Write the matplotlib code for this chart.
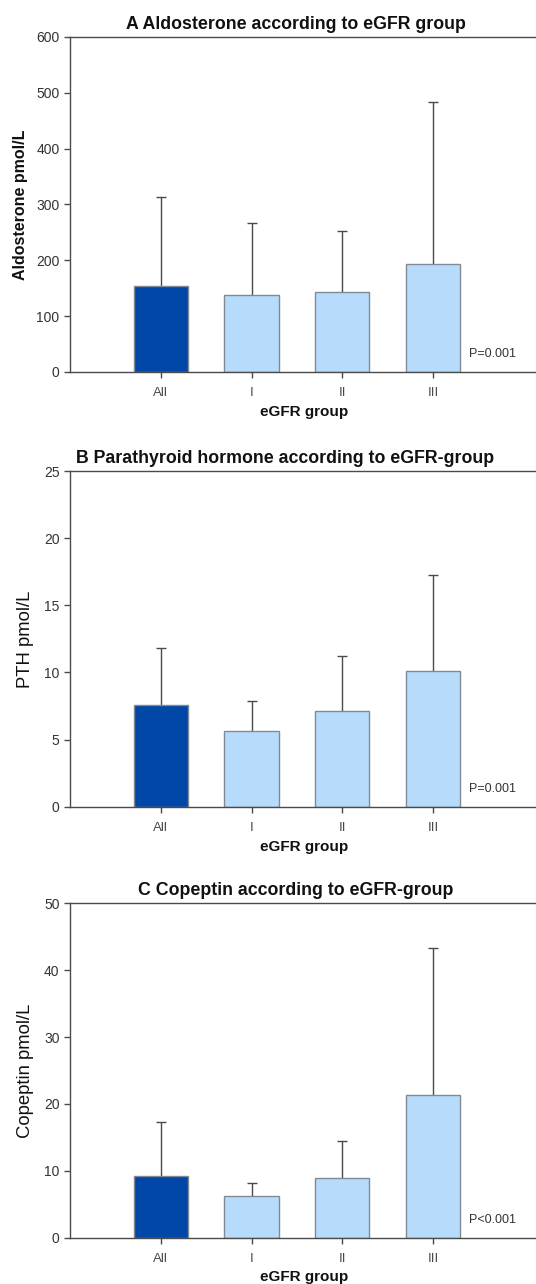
import numpy as np
import matplotlib
matplotlib.use('Agg')
import matplotlib.pyplot as plt

plt.rcParams['font.family'] = ['Liberation Sans', 'DejaVu Sans']

groups = ['All', 'I', 'II', 'III']

aldo_mean = [154, 138, 143, 194]
aldo_upper = [313, 266, 252, 484]

pth_mean = [7.57, 5.66, 7.15, 10.08]
pth_upper = [11.84, 7.9, 11.22, 17.23]

cop_mean = [9.27, 6.23, 8.92, 21.29]
cop_upper = [17.35, 8.23, 14.5, 43.27]

panels = [
    ('A Aldosterone according to eGFR group', 'Aldosterone pmol/L', True,
     aldo_mean, aldo_upper, 600, 100, 'P=0.001'),
    ('B Parathyroid hormone according to eGFR-group', 'PTH pmol/L', False,
     pth_mean, pth_upper, 25, 5, 'P=0.001'),
    ('C Copeptin according to eGFR-group', 'Copeptin pmol/L', False,
     cop_mean, cop_upper, 50, 10, 'P<0.001'),
]

# axes boxes in figure fractions (left, bottom, width, height)
boxes = [
    (0.1306, 0.7103, 0.872, 0.2609),
    (0.1306, 0.3717, 0.872, 0.2614),
    (0.1306, 0.0361, 0.872, 0.2604),
]
# titles sit a little left of the axes centre
title_x = [0.483, 0.461, 0.483]

dark = '#0047a8'
light = '#b7dbfb'
axcol = '#4a4a4a'

fig = plt.figure(figsize=(5.36, 12.84), dpi=100)

for (title, ylab, ybold, means, upper, ymax, ystep, ptxt), box, tx in zip(panels, boxes, title_x):
    ax = fig.add_axes(box)
    x = np.arange(len(groups))
    means = np.array(means)
    upper = np.array(upper)
    colors = [dark] + [light] * (len(groups) - 1)
    ax.bar(x, means, width=0.6, color=colors, edgecolor='#7f8a94', linewidth=1.0, zorder=2)
    eb = ax.errorbar(x, means, yerr=[np.zeros_like(means), upper - means], fmt='none',
                     ecolor=axcol, elinewidth=1.0, capsize=3.5, capthick=1.0, zorder=1)
    eb[1][0].set_visible(False)

    ax.set_xlim(-1, 4.15)
    ax.set_ylim(0, ymax)
    ax.set_yticks(np.arange(0, ymax + ystep / 2, ystep))
    ax.set_xticks(x)
    ax.set_xticklabels(groups, fontsize=9.5, color='#333333')
    ax.tick_params(axis='y', labelsize=10, colors=axcol, labelcolor='#333333', length=4, width=1)
    ax.tick_params(axis='x', colors=axcol, length=4, width=1, pad=7)

    for side in ['left', 'bottom', 'top']:
        ax.spines[side].set_color(axcol)
        ax.spines[side].set_linewidth(1.0)
    ax.spines['right'].set_visible(False)

    ax.set_title(title, fontsize=12.8, fontweight='bold', color='#111111', pad=6, x=tx)
    if ybold:
        ax.set_ylabel(ylab, fontsize=11.5, fontweight='bold', color='#111111', labelpad=6)
    else:
        ax.set_ylabel(ylab, fontsize=13.3, color='#111111', labelpad=7)
    ax.set_xlabel('eGFR group', fontsize=11, fontweight='bold', color='#111111', labelpad=4)
    ax.text(0.955, 0.035, ptxt, transform=ax.transAxes, ha='right', va='bottom',
            fontsize=9, color='#333333')

fig.savefig('out.png', dpi=100)
